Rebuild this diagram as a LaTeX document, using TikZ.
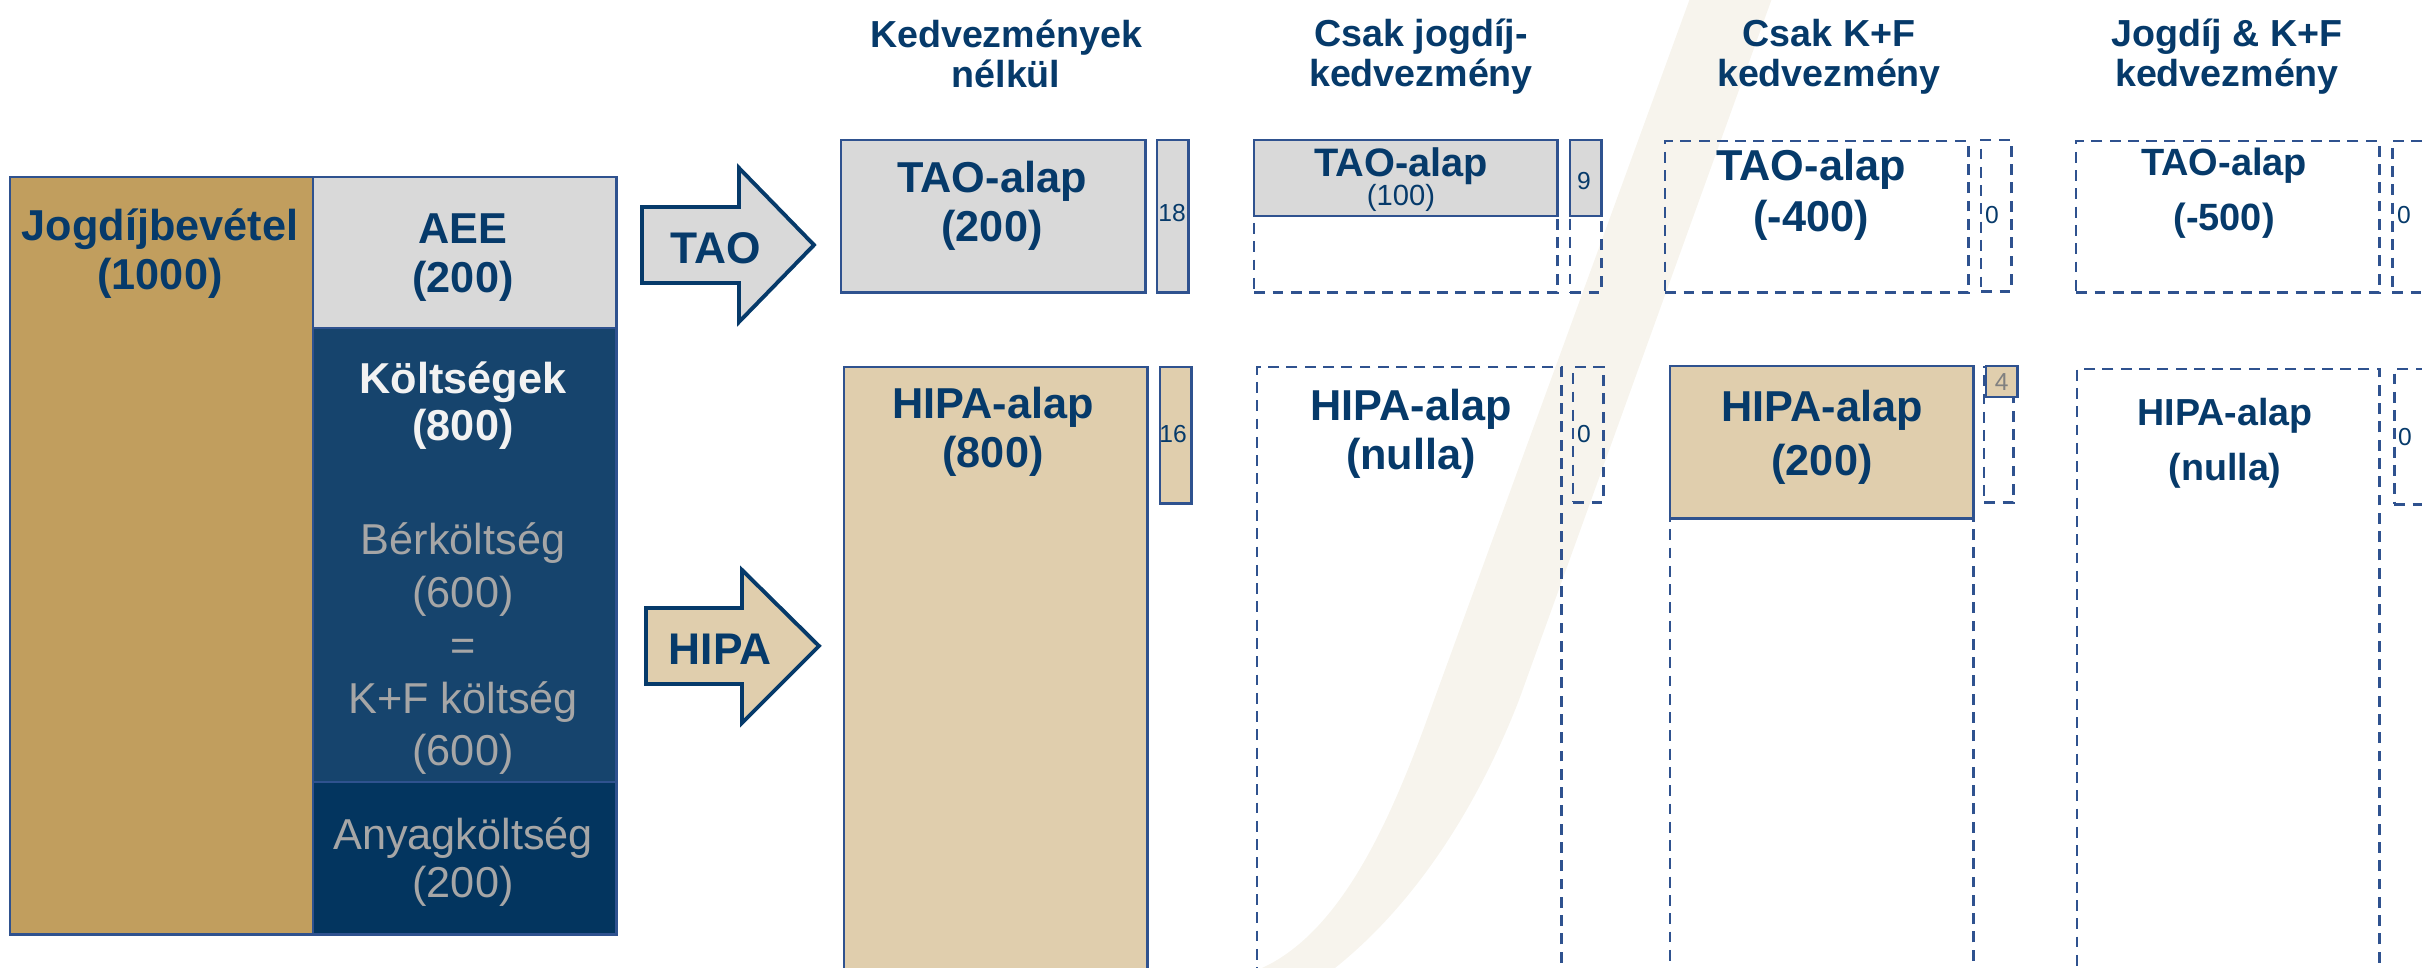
\documentclass[tikz,border=0pt]{standalone}
\usepackage{fontspec}
\setmainfont{Liberation Sans}
\usetikzlibrary{positioning}
\definecolor{navy}{HTML}{063A6A}
\definecolor{edgeblue}{HTML}{2F528F}
\definecolor{goldfill}{HTML}{C19E5E}
\definecolor{greyfill}{HTML}{D9D9D9}
\definecolor{tanfill}{HTML}{E0CEAD}
\definecolor{costblue}{HTML}{16446D}
\definecolor{matblue}{HTML}{03355F}
\definecolor{softgrey}{HTML}{A6A6A6}
\definecolor{swoosh}{HTML}{F7F4ED}

\begin{document}
\begin{tikzpicture}[
  x=0.01cm,y=-0.01cm,
  box/.style={draw=edgeblue,line width=0.7pt,inner sep=0pt,anchor=north west},
  dbox/.style={box,dash pattern=on 3.1pt off 2.1pt},
  lbl/.style={text=navy,font={\bfseries\fontsize{12.3}{14}\selectfont},align=center,inner sep=0pt},
  glbl/.style={text=softgrey,font={\fontsize{12.3}{15}\selectfont},align=center,inner sep=0pt},
  hdr/.style={text=navy,font={\bfseries\fontsize{10.7}{11.4}\selectfont},align=center,inner sep=0pt},
  num/.style={text=navy,font={\fontsize{7}{8}\selectfont},inner sep=0pt},
  arrowbody/.style={draw=navy,line width=1.1pt}
]
\useasboundingbox (0,0) rectangle (2422,968);
\clip (0,0) rectangle (2422,968);

\fill[swoosh] (1693,-10) -- (1434,700) .. controls (1395,810) and (1345,930) .. (1262,968)
  -- (1230,985) -- (1300,985) -- (1335,968) .. controls (1420,900) and (1480,800) .. (1519,700)
  -- (1775,-10) -- cycle;

\node[box,fill=goldfill,minimum width=3.03cm,minimum height=7.57cm] (jog) at (9,176) {};
\node[box,fill=greyfill,minimum width=3.03cm,minimum height=1.51cm] (aee) at (312,176) {};
\node[box,fill=costblue,minimum width=3.03cm,minimum height=4.54cm] (kolt) at (312,327) {};
\node[box,fill=matblue,minimum width=3.03cm,minimum height=1.52cm] (anyag) at (312,781) {};
\node[lbl] (jogt) at (160,254) {Jogdíjbevétel\\(1000)};
\node[lbl] (aeet) at (463,258) {AEE\\(200)};
\node[lbl,text=white!95!black,font={\bfseries\fontsize{12.3}{13.3}\selectfont}] (koltt) at (463,406) {Költségek\\(800)};
\node[glbl] (bert) at (463,649) {Bérköltség\\(600)\\=\\K+F költség\\(600)};
\node[glbl,font={\fontsize{12.3}{13.8}\selectfont}] (anyagt) at (463,862) {Anyagköltség\\(200)};

\draw[arrowbody,fill=greyfill] (642,207) -- (739,207) -- (739,168) -- (814,245) -- (739,322) -- (739,283) -- (642,283) -- cycle;
\node[lbl,font={\bfseries\fontsize{12.6}{14}\selectfont}] (taot) at (716,248) {TAO};
\draw[arrowbody,fill=tanfill] (646,608) -- (742,608) -- (742,570) -- (819,646) -- (742,723) -- (742,684) -- (646,684) -- cycle;
\node[lbl,font={\bfseries\fontsize{12.6}{14}\selectfont}] (hipat) at (720,649) {HIPA};

\node[hdr] (h1) at (1006,54) {Kedvezmények\\nélkül};
\node[hdr] (h2) at (1421,56.5) {Csak jogdíj-\\kedvezmény};
\node[hdr] (h3) at (1829,56.5) {Csak K+F\\kedvezmény};
\node[hdr] (h4) at (2227,57) {Jogdíj \& K+F\\kedvezmény};

\node[box,fill=greyfill,minimum width=3.04cm,minimum height=1.52cm] (tao1) at (840,139) {};
\node[lbl] (tao1t) at (992,206) {TAO-alap\\(200)};
\node[box,fill=greyfill,minimum width=0.31cm,minimum height=1.52cm] (tao1s) at (1156,139) {};
\node[num] at (1172,213) {18};
\node[box,fill=tanfill,minimum width=3.03cm,minimum height=6.2cm] (hipa1) at (843,366) {};
\node[lbl] (hipa1t) at (993,431.5) {HIPA-alap\\(800)};
\node[box,fill=tanfill,minimum width=0.31cm,minimum height=1.36cm] (hipa1s) at (1159,366) {};
\node[num] at (1173,434) {16};

\node[dbox,minimum width=3.03cm,minimum height=1.52cm] (tao2) at (1253,139) {};
\node[box,fill=greyfill,minimum width=3.03cm,minimum height=0.76cm] (tao2f) at (1253,139) {};
\node[lbl,font={\bfseries\fontsize{11.3}{13}\selectfont}] (tao2t) at (1401,166) {TAO-alap};
\node[lbl,font={\fontsize{8.3}{10}\selectfont}] (tao2v) at (1401,198) {(100)};
\node[dbox,minimum width=0.31cm,minimum height=1.52cm] (tao2s) at (1569,139) {};
\node[box,fill=greyfill,minimum width=0.31cm,minimum height=0.76cm] (tao2sf) at (1569,139) {};
\node[num] at (1584,181) {9};
\node[dbox,minimum width=3.04cm,minimum height=6.2cm] (hipa2) at (1256,366) {};
\node[lbl] (hipa2t) at (1411,434) {HIPA-alap\\(nulla)};
\node[dbox,minimum width=0.3cm,minimum height=1.35cm] (hipa2s) at (1572,366) {};
\node[num] at (1584,434) {0};

\node[dbox,minimum width=3.03cm,minimum height=1.51cm] (tao3) at (1664,140) {};
\node[lbl,font={\bfseries\fontsize{12.3}{14.6}\selectfont}] (tao3t) at (1811,195) {TAO-alap\\(-400)};
\node[dbox,minimum width=0.3cm,minimum height=1.51cm] (tao3s) at (1980,139) {};
\node[num] at (1992,215) {0};
\node[dbox,minimum width=3.03cm,minimum height=6.2cm] (hipa3) at (1669,365) {};
\node[box,fill=tanfill,minimum width=3.03cm,minimum height=1.52cm] (hipa3f) at (1669,365) {};
\node[lbl,font={\bfseries\fontsize{12.3}{15.4}\selectfont}] (hipa3t) at (1822,437) {HIPA-alap\\(200)};
\node[dbox,minimum width=0.29cm,minimum height=1.35cm] (hipa3s) at (1983,366) {};
\node[box,fill=tanfill,minimum width=0.31cm,minimum height=0.31cm] (hipa3sf) at (1985,365) {};
\node[num,text=gray] at (hipa3sf.center) {4};

\node[dbox,minimum width=3.03cm,minimum height=1.51cm] (tao4) at (2075,140) {};
\node[lbl,font={\bfseries\fontsize{10.8}{15.5}\selectfont}] (tao4t) at (2224,193) {TAO-alap\\(-500)};
\node[dbox,minimum width=0.4cm,minimum height=1.51cm] (tao4s) at (2391,140) {};
\node[num] at (2404,215) {0};
\node[dbox,minimum width=3.02cm,minimum height=6.2cm] (hipa4) at (2076,368) {};
\node[lbl,font={\bfseries\fontsize{10.7}{15.6}\selectfont}] (hipa4t) at (2225,443) {HIPA-alap\\(nulla)};
\node[dbox,minimum width=0.4cm,minimum height=1.35cm] (hipa4s) at (2393,368) {};
\node[num] at (2405,437) {0};
\end{tikzpicture}
\end{document}
